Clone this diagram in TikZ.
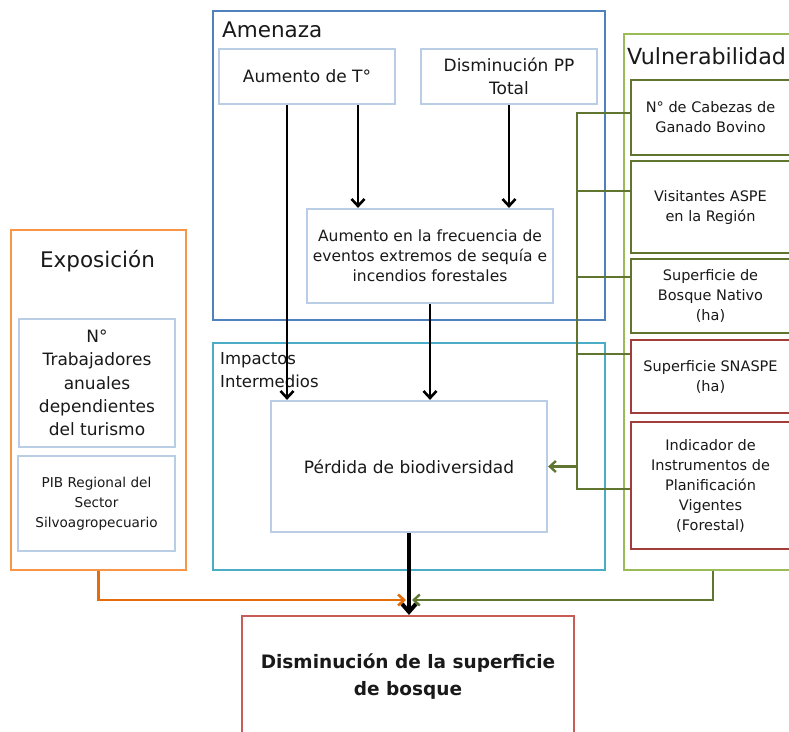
\documentclass[tikz,border=0pt]{standalone}
\usepackage{fontspec}
\setmainfont{DejaVu Sans}
\usetikzlibrary{arrows.meta,calc}
\definecolor{cBlue}{HTML}{4F81BD}
\definecolor{cLight}{HTML}{B9CDE5}
\definecolor{cCyan}{HTML}{4BACC6}
\definecolor{cOrange}{HTML}{F79646}
\definecolor{cOrangeD}{HTML}{E46C0A}
\definecolor{cGreenL}{HTML}{9BBB59}
\definecolor{cGreenD}{HTML}{5F7530}
\definecolor{cRed}{HTML}{A33D3A}
\definecolor{cRedL}{HTML}{C95B58}
\begin{document}
\begin{tikzpicture}[x=1pt,y=-1pt,
  frame/.style={draw=#1, line width=2.3pt, inner sep=0pt, anchor=north west},
  box/.style={draw=#1, line width=2.2pt, fill=white, align=center, inner sep=2pt, text=black!90},
  ttl/.style={inner sep=0pt, text=black!90, font=\fontsize{21.5}{26}\selectfont},
  fA/.style={font=\fontsize{17}{23}\selectfont},
  fB/.style={font=\fontsize{15.5}{20}\selectfont},
  fC/.style={font=\fontsize{14.5}{20}\selectfont},
  fD/.style={font=\fontsize{13.6}{20}\selectfont},
  arr/.style={line width=2.6pt, -{Straight Barb[length=7pt,width=13pt]}},
  bigarr/.style={line width=4pt, -{Straight Barb[length=8pt,width=14pt]}},
  gline/.style={draw=cGreenD, line width=2.4pt},
  garr/.style={gline, -{Straight Barb[length=6pt,width=11pt]}},
  oarr/.style={draw=cOrangeD, line width=2.6pt, -{Straight Barb[length=6pt,width=11pt]}}
]
\useasboundingbox (0,0) rectangle (789,731);
\clip (0,0) rectangle (789,731);
\fill[white] (0,0) rectangle (789,731);

% frames
\node[frame=cBlue, minimum width=392, minimum height=309] (amen) at (212,10) {};
\node[frame=cCyan, minimum width=392, minimum height=227] (imp) at (212,342) {};
\node[frame=cOrange, minimum width=175, minimum height=340] (expo) at (10,229) {};
\node[frame=cGreenL, minimum width=178, minimum height=536] (vuln) at (623,33) {};

% titles
\node[ttl, anchor=base west] (tAmen) at (222,37) {Amenaza};
\node[ttl, anchor=base] (tExpo) at (97.5,267) {Exposición};
\node[ttl, anchor=base west, font=\fontsize{22.2}{27}\selectfont] (tVuln) at (627,64) {Vulnerabilidad};
\node[inner sep=0pt, anchor=north west, align=left, text=black!90,
      font=\fontsize{16.5}{23}\selectfont] (tImp) at (220,352) {Impactos\\Intermedios};

% green bus
\coordinate (busT) at (577,113);
\coordinate (busB) at (577,489);

% boxes
\node[box=cLight, fA, minimum width=176, minimum height=55] (tbox) at (307,76.5) {Aumento de T°};
\node[box=cLight, fA, minimum width=176, minimum height=55] (pp) at (509,76.5) {Disminución PP\\Total};
\node[box=cLight, fB, minimum width=246, minimum height=94] (freq) at (430,256)
  {Aumento en la frecuencia de\\eventos extremos de sequía e\\incendios forestales};
\node[box=cLight, fA, minimum width=276, minimum height=131] (pd) at (409,466.5) {Pérdida de biodiversidad};
\node[box=cRedL, minimum width=332, minimum height=121,
      font=\fontsize{18.5}{27}\selectfont\bfseries] (dis) at (408,676.5)
  {Disminución de la superficie\\de bosque};

\node[box=cLight, font=\fontsize{17}{23.3}\selectfont, minimum width=156, minimum height=128] (trab) at (97,383)
  {N°\\Trabajadores\\anuales\\dependientes\\del turismo};
\node[box=cLight, fD, minimum width=157, minimum height=95] (pib) at (96.5,503.5)
  {PIB Regional del\\Sector\\Silvoagropecuario};

\node[box=cGreenD, fC, minimum width=159, minimum height=75] (cab) at (710.5,117.5)
  {N° de Cabezas de\\Ganado Bovino};
\node[box=cGreenD, fC, minimum width=159, minimum height=92] (vis) at (710.5,207)
  {Visitantes ASPE\\en la Región};
\node[box=cGreenD, fC, minimum width=159, minimum height=74] (bos) at (710.5,296)
  {Superficie de\\Bosque Nativo\\(ha)};
\node[box=cRed, fC, minimum width=159, minimum height=73] (sna) at (710.5,376.5)
  {Superficie SNASPE\\(ha)};
\node[box=cRed, fC, minimum width=159, minimum height=127] (ind) at (710.5,485.5)
  {Indicador de\\Instrumentos de\\Planificación\\Vigentes\\(Forestal)};

% black arrows
\draw[arr] ([xshift=-20pt]tbox.south) -- ([xshift=-20pt]tbox.south |- pd.north);
\draw[arr] ([xshift=51pt]tbox.south) -- ([xshift=51pt]tbox.south |- freq.north);
\draw[arr] (pp.south) -- (pp.south |- freq.north);
\draw[arr] (freq.south) -- (freq.south |- pd.north);
\draw[bigarr] (pd.south) -- (pd.south |- dis.north);

% green connectors
\draw[gline] (cab.west |- busT) -- (busT) -- (busB) -- (ind.west |- busB);
\draw[gline] ([yshift=16pt]vis.west) -- ([yshift=16pt]vis.west -| busT);
\draw[gline] ([yshift=19pt]bos.west) -- ([yshift=19pt]bos.west -| busT);
\draw[gline] ([yshift=22.5pt]sna.west) -- ([yshift=22.5pt]sna.west -| busT);
\draw[garr] (busT |- pd.east) -- (pd.east);

% bottom connectors
\coordinate (meet) at (409,600);
\draw[oarr] (expo.south) -- (expo.south |- meet) -- ([xshift=-3pt]meet);
\draw[garr] (vuln.south) -- (vuln.south |- meet) -- ([xshift=3pt]meet);
\end{tikzpicture}
\end{document}
